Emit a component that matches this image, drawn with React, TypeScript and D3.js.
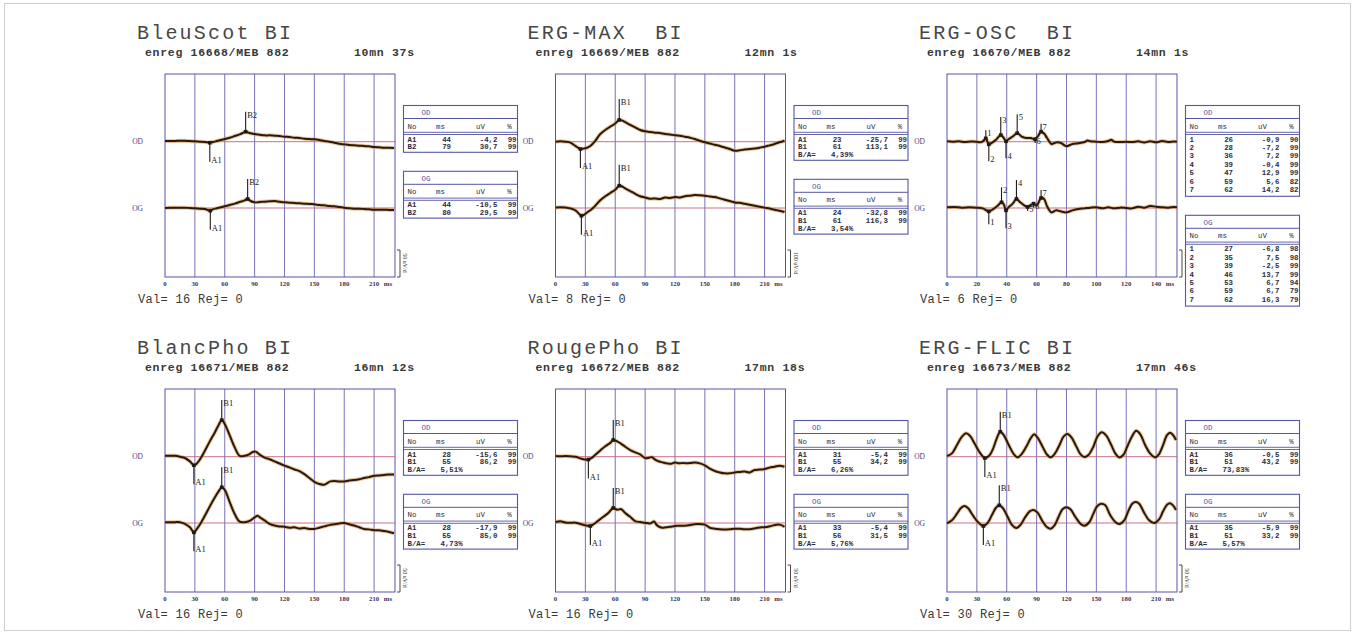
import React from "react";
import * as d3 from "d3";

type Pt = [number, number];
type Mark = [string, number, number]; // label, ms, stem length px (+ up, - down)

const TICKS_30 = [0, 30, 60, 90, 120, 150, 180, 210];
const TICKS_20 = [0, 20, 40, 60, 80, 100, 120, 140];

// ---------- Panel 1 : BleuScot ----------
const p1OD: Pt[] = [[0,2],[5,2],[10,2],[15,3],[20,3],[25,2],[30,1],[35,0],[40,-1],[45,-3],[48,-1],[52,2],[56,5],[60,8],[65,12],[70,17],[75,22],[78,26],[81,30],[85,26],[90,23],[95,21],[100,19],[105,19],[110,18],[115,17],[120,15],[125,14],[130,12],[135,11],[140,9],[145,8],[150,7],[155,5],[160,2],[165,0],[170,-3],[175,-6],[180,-8],[185,-10],[190,-11],[195,-12],[200,-13],[205,-14],[210,-16],[215,-17],[220,-18],[225,-18],[230,-19]];
const p1OG: Pt[] = [[0,0],[5,1],[10,1],[15,1],[20,1],[25,0],[30,-1],[35,-2],[40,-3],[45.5,-8],[48,-4],[52,-1],[56,2],[60,5],[65,9],[70,13],[75,18],[80,23],[83,27],[86,21],[90,17],[95,18],[100,19],[105,20],[110,21],[115,19],[120,17],[125,16],[130,15],[135,14],[140,13],[145,12],[150,11],[155,9],[160,8],[165,6],[170,5],[175,3],[180,1],[185,-1],[190,-2],[195,-2],[200,-3],[205,-4],[210,-5],[215,-5],[220,-5],[225,-6],[230,-6]];
const p1ODMarks: Mark[] = [["A1",45,-19],["B2",81,20]];
const p1OGMarks: Mark[] = [["A1",45.5,-19],["B2",83,20]];
const p1ODTable = [["A1","44","-4,2","99"],["B2","79","30,7","99"]];
const p1OGTable = [["A1","44","-10,5","99"],["B2","80","29,5","99"]];

// ---------- Panel 2 : ERG-MAX ----------
const p2OD: Pt[] = [[0,0],[5,2],[10,0],[15,-5],[20,-22],[25,-38],[28,-36],[31,-33],[35,-22],[40,5],[45,40],[50,61],[55,78],[60,95],[64,113],[67,110],[70,102],[75,88],[80,75],[85,61],[90,54],[95,50],[100,47],[105,45],[110,40],[115,38],[120,33],[125,31],[130,26],[135,21],[140,14],[145,5],[150,-3],[155,-9],[160,-16],[165,-22],[170,-30],[175,-38],[180,-47],[185,-45],[190,-40],[195,-38],[200,-35],[205,-31],[210,-26],[215,-19],[220,-12],[225,-3],[230,5]];
const p2OG: Pt[] = [[0,3],[5,4],[10,3],[15,-2],[20,-12],[26,-40],[29,-34],[32,-22],[36,-8],[40,12],[45,40],[50,61],[55,78],[60,95],[64,116],[67,112],[70,102],[75,88],[80,74],[85,61],[90,55],[95,48],[100,50],[105,47],[110,54],[115,52],[120,57],[125,55],[130,61],[135,64],[140,67],[145,66],[150,64],[155,60],[160,57],[165,50],[170,43],[175,36],[180,29],[185,27],[190,22],[195,17],[200,12],[205,7],[210,2],[215,-3],[220,-9],[225,-14],[230,-21]];
const p2ODMarks: Mark[] = [["A1",25,-19],["B1",64,21]];
const p2OGMarks: Mark[] = [["A1",26,-19],["B1",64,21]];
const p2ODTable = [["A1","23","-25,7","99"],["B1","61","113,1","99"]];
const p2OGTable = [["A1","24","-32,8","99"],["B1","61","116,3","99"]];

// ---------- Panel 3 : ERG-OSC ----------
const p3OD: Pt[] = [[0,0.5],[4,0],[8,0.5],[12,-0.5],[16,0.3],[20,0],[22,-0.9],[24,0.5],[26,4.5],[28,-3.5],[30,-1.5],[33,3],[36,9],[38,5],[39.5,0.5],[41,3],[44,7],[47,11.5],[50,7],[53,5],[56,5],[59,3.5],[61,8],[63,13.5],[65,11],[67,5],[70,-3],[73,-1],[76,-1.5],[80,-6],[84,-3],[88,-2],[92,-0.5],[94,1.5],[96,0.5],[100,0],[104,-0.5],[108,1],[110,2.5],[112,0],[116,-0.5],[120,0],[124,-0.5],[128,0.5],[132,-1],[136,0.5],[140,-0.8],[144,0.8],[148,-0.4],[152,0.2],[154,0]];
const p3OG: Pt[] = [[0,0.9],[5,1.4],[10,0.5],[15,0.9],[20,0.5],[24,-0.5],[28,-4.5],[31,-1.4],[34,3.2],[36.5,7.7],[38,5],[39.5,-3.2],[41,0.5],[44,5.9],[46.5,12.2],[49,7.7],[52,3.2],[54,1.4],[56,4],[58,5.9],[60,3.2],[63,13.5],[65,12.2],[67,2.3],[70,-5.9],[73,-3.2],[76,-4.5],[80,-5.9],[84,-3.2],[88,-1.4],[92,-0.5],[96,0.5],[100,0.9],[104,-0.5],[108,0.9],[112,-0.5],[116,0.5],[120,0],[124,-0.5],[128,1.8],[132,0.5],[136,2.7],[140,1.8],[144,0.9],[148,0.5],[152,1.2],[154,0.9]];
const p3ODMarks: Mark[] = [["1",26,8],["2",28,-17],["3",36,18],["4",39.5,-17],["5",47,19],["6",59,-4],["7",63,8]];
const p3OGMarks: Mark[] = [["1",28,-13],["2",36.5,15],["3",39.5,-18],["4",46.5,19],["5",54,-4],["6",58,-4],["7",63,8]];
const p3ODTable = [["1","26","-0,9","90"],["2","28","-7,2","99"],["3","36","7,2","99"],["4","39","-0,4","99"],["5","47","12,9","99"],["6","59","5,6","82"],["7","62","14,2","82"]];
const p3OGTable = [["1","27","-6,8","98"],["2","35","7,5","98"],["3","39","-2,5","99"],["4","46","13,7","99"],["5","53","6,7","94"],["6","59","6,7","79"],["7","62","16,3","79"]];

// ---------- Panel 4 : BlancPho ----------
const p4OD: Pt[] = [[0,2],[5,2.5],[10,2],[15,0],[20,-3],[25,-11],[29,-20],[32,-16],[36,-3],[40,14],[45,36],[50,57],[54,75],[57,86],[60,77],[65,50],[70,22],[75,2],[80,2],[85,6],[88,11],[91,12],[95,5],[100,-2],[105,-6],[110,-11],[115,-16],[120,-21],[125,-25],[130,-30],[135,-34],[140,-41],[145,-50],[150,-59],[155,-64],[160,-66],[163,-62],[166,-58],[170,-57],[175,-58],[180,-58],[185,-56],[190,-55],[195,-53],[200,-50],[205,-48],[210,-45],[215,-44],[220,-43],[225,-42],[230,-42]];
const p4OG: Pt[] = [[0,2],[5,2],[10,2],[15,2],[20,-2],[25,-10],[29,-22],[32,-14],[36,0],[40,17],[45,39],[50,60],[54,75],[57,84],[60,78],[65,49],[70,21],[75,3],[80,2],[85,5],[90,13],[93,17],[96,12],[100,6],[105,-2],[110,-6],[115,-8],[120,-9],[125,-11],[130,-10],[135,-13],[140,-12],[145,-14],[150,-14],[155,-11],[160,-8],[165,-5],[170,-3],[175,-1],[180,0],[185,-3],[190,-6],[195,-10],[200,-14],[205,-15],[210,-17],[215,-17],[220,-19],[225,-21],[230,-24]];
const p4ODMarks: Mark[] = [["A1",29,-19],["B1",57,20]];
const p4OGMarks: Mark[] = [["A1",29,-19],["B1",57,20]];
const p4ODTable = [["A1","28","-15,6","99"],["B1","55","86,2","99"]];
const p4OGTable = [["A1","28","-17,9","99"],["B1","55","85,0","99"]];

// ---------- Panel 5 : RougePho ----------
const p5OD: Pt[] = [[0,1.4],[5,1],[10,1.4],[15,0.7],[20,0],[25,-3.5],[30,-6],[33,-6],[36,-3],[40,4],[45,13],[50,22],[55,29],[58,35],[62,32],[66,27],[70,21],[75,14],[80,9],[85,5],[90,-3],[94,-2],[97,-1],[100,-6],[104,-10],[108,-12],[112,-14],[116,-15],[120,-12],[124,-14],[128,-13],[132,-14],[136,-13],[140,-12],[145,-14],[150,-18],[155,-25],[160,-30],[165,-33],[170,-35],[175,-35],[180,-33],[185,-32],[190,-31],[195,-33],[200,-28],[205,-27],[210,-26],[215,-23],[220,-21],[225,-19],[230,-21]];
const p5OG: Pt[] = [[0,2],[5,3.5],[10,1],[15,0.5],[20,0.7],[25,-2],[30,-5],[35,-6.3],[38,-3],[43,5],[48,13],[53,21],[58,31.5],[62,28],[66,29],[70,21],[75,13],[80,4],[85,2],[90,0.7],[95,-1],[99,3],[102,-5],[107,-10],[111,-9],[115,-8],[122,-6],[132,-5],[142,-2],[150,-3.5],[155,-10],[160,-12],[165,-13],[170,-13.5],[175,-13],[180,-12],[185,-12],[190,-13],[195,-13],[202,-10.5],[207,-9],[212,-8.5],[217,-6],[222,-3.5],[226,-4],[230,-8]];
const p5ODMarks: Mark[] = [["A1",33,-19],["B1",58,20]];
const p5OGMarks: Mark[] = [["A1",35,-19],["B1",58,20]];
const p5ODTable = [["A1","31","-5,4","99"],["B1","55","34,2","99"]];
const p5OGTable = [["A1","33","-5,4","99"],["B1","56","31,5","99"]];

// ---------- Panel 6 : ERG-FLIC ----------
const p6OD: Pt[] = [[0,1.2],[5,6],[10,21],[15,36],[19,42],[23,37.8],[28,22.8],[33,7.2],[38,-2.4],[42,1.2],[46,13.2],[50,33],[53.5,45],[57,39],[62,21],[67,4.8],[71,-1.2],[75,4.8],[80,19.2],[84,33],[87.5,40.2],[91,34.2],[96,18],[100,4.8],[104,-1.2],[108,4.8],[113,21],[117,36],[121,40.8],[125,34.8],[130,18],[134,4.8],[138,-0.6],[142,3],[147,18],[151,36],[155.5,43.8],[160,37.8],[165,21],[169,6],[173,-1.2],[177,3],[181,18],[186,37.2],[190,46.8],[194,40.8],[199,21],[204,6],[209,-1.2],[213,4.8],[217,21],[221,39],[224,43.2],[227,39],[230,30]];
const p6OG: Pt[] = [[0,-0.6],[5,4.8],[10,16.8],[14,27],[17.5,30.6],[21,27],[26,13.8],[31,1.8],[36.5,-5.4],[41,0.6],[45,13.8],[49,27],[52.5,31.8],[56,27],[61,10.8],[65,-3],[69.5,-9],[74,-3],[78,9],[83,21],[87,23.4],[91,18.6],[96,3],[100,-6.6],[104,-10.2],[108,-4.2],[112,10.8],[116,24.6],[120,28.2],[124,24.6],[129,10.8],[134,-1.2],[138,-4.8],[143,1.8],[147,16.8],[151,30.6],[155,34.8],[159,31.8],[164,13.8],[169,1.8],[173,-1.8],[178,4.8],[182,21],[186,34.8],[189.5,37.8],[193,34.8],[198,18.6],[203,4.8],[208,0],[213,6.6],[217,21],[221,33],[224,35.4],[227,31.8],[230,23.4]];
const p6ODMarks: Mark[] = [["A1",38,-19],["B1",53.5,20]];
const p6OGMarks: Mark[] = [["A1",36.5,-19],["B1",52.5,20]];
const p6ODTable = [["A1","36","-0,5","99"],["B1","51","43,2","99"]];
const p6OGTable = [["A1","35","-5,9","99"],["B1","51","33,2","99"]];

// ---------- layout ----------
const COL_X = [165, 555.5, 947];
const ROW_Y = [74, 389];
const PW = 230;
const PH = 203;
const OD_OFF = 67.7;
const OG_OFF = 134;

const GRID = "#5a50a8";
const BASE = "#c4607e";
const TXT = "#383838";
const MONO = "'Liberation Mono', 'DejaVu Sans Mono', monospace";
const SERIF = "'Liberation Serif', 'DejaVu Serif', serif";

interface PanelCfg {
  title: string; enreg: string; dur: string; col: number; row: number;
  xMax: number; ticks: number[]; uvpx: number; rowH: number;
  od: Pt[]; og: Pt[]; odMarks: Mark[]; ogMarks: Mark[];
  odTable: string[][]; ogTable: string[][]; odRatio?: string; ogRatio?: string;
  val: string; scaleLbl: string;
}

const panels: PanelCfg[] = [
  { title: "BleuScot BI", enreg: "enreg 16668/MEB 882", dur: "10mn 37s", col: 0, row: 0, xMax: 231, ticks: TICKS_30, uvpx: 3, rowH: 7.4,
    od: p1OD, og: p1OG, odMarks: p1ODMarks, ogMarks: p1OGMarks, odTable: p1ODTable, ogTable: p1OGTable, val: "Val= 16 Rej= 0", scaleLbl: "50 uV/d" },
  { title: "ERG-MAX  BI", enreg: "enreg 16669/MEB 882", dur: "12mn 1s", col: 1, row: 0, xMax: 231, ticks: TICKS_30, uvpx: 5.2, rowH: 7.6,
    od: p2OD, og: p2OG, odMarks: p2ODMarks, ogMarks: p2OGMarks, odTable: p2ODTable, ogTable: p2OGTable, odRatio: "4,39%", ogRatio: "3,54%", val: "Val= 8 Rej= 0", scaleLbl: "100 uV/d" },
  { title: "ERG-OSC  BI", enreg: "enreg 16670/MEB 882", dur: "14mn 1s", col: 2, row: 0, xMax: 154, ticks: TICKS_20, uvpx: 1.35, rowH: 8.4,
    od: p3OD, og: p3OG, odMarks: p3ODMarks, ogMarks: p3OGMarks, odTable: p3ODTable, ogTable: p3OGTable, val: "Val= 6 Rej= 0", scaleLbl: "20 uV/d" },
  { title: "BlancPho BI", enreg: "enreg 16671/MEB 882", dur: "16mn 12s", col: 0, row: 1, xMax: 231, ticks: TICKS_30, uvpx: 2.35, rowH: 7.6,
    od: p4OD, og: p4OG, odMarks: p4ODMarks, ogMarks: p4OGMarks, odTable: p4ODTable, ogTable: p4OGTable, odRatio: "5,51%", ogRatio: "4,73%", val: "Val= 16 Rej= 0", scaleLbl: "50 uV/d" },
  { title: "RougePho BI", enreg: "enreg 16672/MEB 882", dur: "17mn 18s", col: 1, row: 1, xMax: 231, ticks: TICKS_30, uvpx: 2.1, rowH: 7.6,
    od: p5OD, og: p5OG, odMarks: p5ODMarks, ogMarks: p5OGMarks, odTable: p5ODTable, ogTable: p5OGTable, odRatio: "6,26%", ogRatio: "5,76%", val: "Val= 16 Rej= 0", scaleLbl: "50 uV/d" },
  { title: "ERG-FLIC BI", enreg: "enreg 16673/MEB 882", dur: "17mn 46s", col: 2, row: 1, xMax: 231, ticks: TICKS_30, uvpx: 1.8, rowH: 7.6,
    od: p6OD, og: p6OG, odMarks: p6ODMarks, ogMarks: p6OGMarks, odTable: p6ODTable, ogTable: p6OGTable, odRatio: "73,83%", ogRatio: "5,57%", val: "Val= 30 Rej= 0", scaleLbl: "50 uV/d" },
];

const HDR = 29;
const PAD = 3;
function tableH(n: number, rowH: number) {
  return HDR + n * rowH + PAD;
}

function valAt(data: Pt[], t: number): number {
  for (let i = 0; i < data.length - 1; i++) {
    const [t0, v0] = data[i], [t1, v1] = data[i + 1];
    if (t >= t0 && t <= t1) return v0 + ((v1 - v0) * (t - t0)) / (t1 - t0 || 1);
  }
  return data[data.length - 1][1];
}

function Trace({ data, marks, x, y }: { data: Pt[]; marks: Mark[]; x: d3.ScaleLinear<number, number>; y: d3.ScaleLinear<number, number> }) {
  const line = d3.line<Pt>().x((d) => x(d[0])).y((d) => y(d[1])).curve(d3.curveCatmullRom.alpha(0.5));
  const path = line(data) || "";
  return (
    <g>
      <path d={path} fill="none" stroke="#e29a48" strokeWidth={4} strokeOpacity={0.55} strokeLinejoin="round" />
      <path d={path} fill="none" stroke="#261a12" strokeWidth={2} strokeLinejoin="round" />
      {marks.map(([lbl, t, stem], i) => {
        const mx = x(t), my = y(valAt(data, t));
        const ey = my - stem;
        return (
          <g key={i}>
            <line x1={mx} x2={mx} y1={my} y2={ey} stroke="#1e1a18" strokeWidth={1.1} />
            <rect x={mx - 1.8} y={my - 1.8} width={3.6} height={3.6} fill="#1e1a18" />
            <text x={mx + 1.5} y={stem > 0 ? ey + 6 : ey + 1} fontFamily={SERIF} fontSize={8.5} fill="#222">{lbl}</text>
          </g>
        );
      })}
    </g>
  );
}

function Table({ left, top, title, rows, ratio, rowH }: { left: number; top: number; title: string; rows: string[][]; ratio?: string; rowH: number }) {
  const W = 114;
  const nRows = rows.length + (ratio ? 1 : 0);
  const H = tableH(nRows, rowH);
  const c = "#5656a6";
  return (
    <g fontFamily={MONO} fontSize={7.4} fontWeight="bold" fill="#2c2c3c">
      <rect x={left} y={top} width={W} height={H} fill="#fff" stroke={c} strokeWidth={1.1} />
      <line x1={left} x2={left + W} y1={top + 13} y2={top + 13} stroke={c} strokeWidth={1} />
      <line x1={left} x2={left + W} y1={top + HDR - 2.2} y2={top + HDR - 2.2} stroke={c} strokeWidth={0.9} />
      <line x1={left} x2={left + W} y1={top + HDR} y2={top + HDR} stroke={c} strokeWidth={0.9} />
      <text x={left + 18} y={top + 9.5} fill="#5050a0" fontWeight="normal">{title}</text>
      <text x={left + 4} y={top + 23} fontWeight="normal">No</text>
      <text x={left + 37} y={top + 23} textAnchor="middle" fontWeight="normal">ms</text>
      <text x={left + 77} y={top + 23} textAnchor="middle" fontWeight="normal">uV</text>
      <text x={left + 106} y={top + 23} textAnchor="middle" fontWeight="normal">%</text>
      {rows.map((r, i) => {
        const yy = top + HDR + 7 + i * rowH;
        return (
          <g key={i}>
            <text x={left + 4} y={yy}>{r[0]}</text>
            <text x={left + 47.5} y={yy} textAnchor="end">{r[1]}</text>
            <text x={left + 94} y={yy} textAnchor="end">{r[2]}</text>
            <text x={left + 113} y={yy} textAnchor="end">{r[3]}</text>
          </g>
        );
      })}
      {ratio && (
        <g>
          <text x={left + 4} y={top + HDR + 7 + rows.length * rowH}>B/A=</text>
          <text x={left + 37} y={top + HDR + 7 + rows.length * rowH}>{ratio}</text>
        </g>
      )}
    </g>
  );
}

function Panel({ p }: { p: PanelCfg }) {
  const x0 = COL_X[p.col];
  const y0 = ROW_Y[p.row];
  const x = d3.scaleLinear().domain([0, p.xMax]).range([x0, x0 + PW]);
  const mkY = (base: number) => d3.scaleLinear().domain([0, 100]).range([base, base - 100 / p.uvpx]);
  const baseOD = y0 + OD_OFF, baseOG = y0 + OG_OFF;
  const yOD = mkY(baseOD), yOG = mkY(baseOG);
  const right = x0 + PW;
  const tabL = right + 8.5;
  const odTop = y0 + 31.5;
  const odH = tableH(p.odTable.length + (p.odRatio ? 1 : 0), p.rowH);
  const ogTop = odTop + odH + 19;
  return (
    <g>
      {/* title block */}
      <text x={x0 - 28} y={y0 - 35} fontFamily={MONO} fontSize={20} letterSpacing={2.2} fill="#474747" style={{ whiteSpace: "pre" }}>{p.title}</text>
      <text x={x0 - 20} y={y0 - 18.5} fontFamily={MONO} fontSize={11.5} letterSpacing={0.7} fontWeight="bold" fill={TXT}>{p.enreg}</text>
      <text x={x0 + 189} y={y0 - 18.5} fontFamily={MONO} fontSize={11.5} letterSpacing={0.7} fontWeight="bold" fill={TXT}>{p.dur}</text>

      {/* grid */}
      <rect x={x0} y={y0} width={PW} height={PH} fill="none" stroke={GRID} strokeWidth={1} />
      {p.ticks.filter((t) => t > 0).map((t) => (
        <line key={t} x1={x(t)} x2={x(t)} y1={y0} y2={y0 + PH} stroke={GRID} strokeWidth={0.9} strokeOpacity={0.9} />
      ))}
      <line x1={x0} x2={right} y1={baseOD} y2={baseOD} stroke={BASE} strokeWidth={0.9} />
      <line x1={x0} x2={right} y1={baseOG} y2={baseOG} stroke={BASE} strokeWidth={0.9} />

      {/* channel labels */}
      <text x={x0 - 22} y={baseOD + 2.5} textAnchor="end" fontFamily={SERIF} fontSize={7.5} fill="#4c3f8c">OD</text>
      <text x={x0 - 22} y={baseOG + 2.5} textAnchor="end" fontFamily={SERIF} fontSize={7.5} fill="#4c3f8c">OG</text>

      {/* tick labels */}
      <g fontFamily={SERIF} fontSize={6.8} fontWeight="bold" fill="#3a3358" textAnchor="middle">
        {p.ticks.map((t) => (
          <text key={t} x={x(t)} y={y0 + PH + 9}>{t}</text>
        ))}
        <text x={right - 7} y={y0 + PH + 9}>ms</text>
      </g>

      {/* traces */}
      <Trace data={p.od} marks={p.odMarks} x={x} y={yOD} />
      <Trace data={p.og} marks={p.ogMarks} x={x} y={yOG} />

      {/* scale bar */}
      <path d={`M${right + 2},${y0 + PH - 27} H${right + 5} V${y0 + PH} H${right + 2}`} fill="none" stroke="#333" strokeWidth={0.9} />
      <text transform={`translate(${right + 8},${y0 + PH - 14}) rotate(90)`} textAnchor="middle" fontFamily={SERIF} fontSize={6} fill="#333">{p.scaleLbl}</text>

      {/* tables */}
      <Table left={tabL} top={odTop} title="OD" rows={p.odTable} ratio={p.odRatio} rowH={p.rowH} />
      <Table left={tabL} top={ogTop} title="OG" rows={p.ogTable} ratio={p.ogRatio} rowH={p.rowH} />

      {/* footer */}
      <text x={x0 - 27} y={y0 + PH + 26} fontFamily={MONO} fontSize={12} letterSpacing={0.3} fill={TXT}>{p.val}</text>
    </g>
  );
}

export default function App() {
  return (
    <svg width={1355} height={634} style={{ position: "absolute", left: 0, top: 0, background: "#fff" }}>
      <rect x={0} y={0} width={1355} height={634} fill="#fff" />
      <rect x={4.5} y={3.5} width={1346} height={627} fill="none" stroke="#cfcfcf" strokeWidth={1} />
      {panels.map((p, i) => (
        <Panel key={i} p={p} />
      ))}
    </svg>
  );
}
